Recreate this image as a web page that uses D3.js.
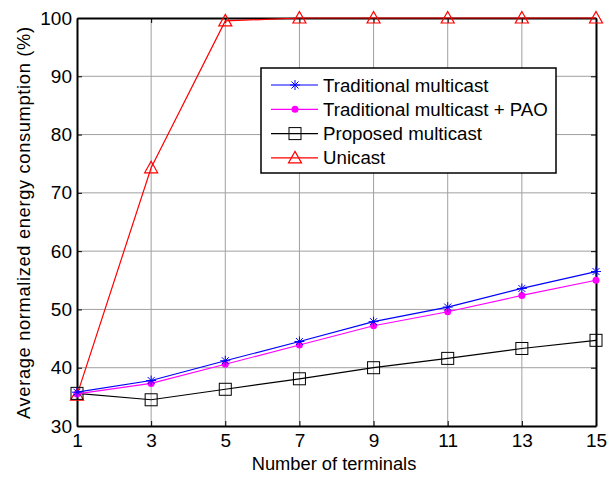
<!DOCTYPE html>
<html>
<head>
<meta charset="utf-8">
<script src="https://cdn.jsdelivr.net/npm/d3@7"></script>
<style>
  body { margin: 0; background: white; }
  text { font-family: "Liberation Sans", Arial, sans-serif; }
</style>
</head>
<body>
<div id="chart"></div>
<script>
// data
var terminals   = [1, 3, 5, 7, 9, 11, 13, 15];
var traditional = [35.8, 37.8, 41.2, 44.5, 47.9, 50.4, 53.6, 56.5];
var pao         = [35.5, 37.3, 40.6, 43.9, 47.2, 49.6, 52.4, 55.0];
var proposed    = [35.6, 34.5, 36.3, 38.1, 40.0, 41.6, 43.3, 44.7];
var unicast     = [35.3, 74.3, 99.5, 100, 100, 100, 100, 100];
var yTicks      = [30, 40, 50, 60, 70, 80, 90, 100];

var series = [
  { name: "Traditional multicast",       values: traditional, color: "#0000ff", marker: "star" },
  { name: "Traditional multicast + PAO", values: pao,         color: "#ff00ff", marker: "dot" },
  { name: "Proposed multicast",          values: proposed,    color: "#000000", marker: "square" },
  { name: "Unicast",                     values: unicast,     color: "#ff0000", marker: "triangle" }
];

var width = 611, height = 477;
var plotLeft = 77, plotRight = 596, plotTop = 18, plotBottom = 426;

var svg = d3.select("#chart").append("svg")
    .attr("width", width)
    .attr("height", height);

svg.append("rect").attr("width", width).attr("height", height).attr("fill", "white");

var x = d3.scaleLinear().domain([1, 15]).range([plotLeft, plotRight]);
var y = d3.scaleLinear().domain([30, 100]).range([plotBottom, plotTop]);

// grid
var grid = svg.append("g");
grid.selectAll("line.vx")
    .data(terminals.slice(1, -1))
    .enter().append("line")
    .attr("x1", function(d) { return x(d); })
    .attr("x2", function(d) { return x(d); })
    .attr("y1", plotTop).attr("y2", plotBottom)
    .attr("stroke", "#a0a0a0").attr("stroke-width", 1);
grid.selectAll("line.hy")
    .data(yTicks.slice(1, -1))
    .enter().append("line")
    .attr("y1", function(d) { return y(d); })
    .attr("y2", function(d) { return y(d); })
    .attr("x1", plotLeft).attr("x2", plotRight)
    .attr("stroke", "#a0a0a0").attr("stroke-width", 1);

// axes
var xAxis = d3.axisBottom(x).tickValues(terminals).tickSizeInner(-5).tickSizeOuter(0).tickPadding(8);
var yAxis = d3.axisLeft(y).tickValues(yTicks).tickSizeInner(-5).tickSizeOuter(0).tickPadding(5);

var gx = svg.append("g").attr("transform", "translate(0," + plotBottom + ")").call(xAxis);
var gy = svg.append("g").attr("transform", "translate(" + plotLeft + ",0)").call(yAxis);
var gxt = svg.append("g").attr("transform", "translate(0," + plotTop + ")")
    .call(d3.axisTop(x).tickValues(terminals).tickSizeInner(-5).tickSizeOuter(0).tickFormat(""));
var gyr = svg.append("g").attr("transform", "translate(" + plotRight + ",0)")
    .call(d3.axisRight(y).tickValues(yTicks).tickSizeInner(-5).tickSizeOuter(0).tickFormat(""));

[gx, gy, gxt, gyr].forEach(function(g) {
  g.select(".domain").attr("stroke", "black").attr("stroke-width", 2);
  g.selectAll(".tick line").attr("stroke", "black");
  g.selectAll(".tick text").attr("fill", "black")
    .style("font-family", "'Liberation Sans', Arial, sans-serif")
    .style("font-size", "19px");
});

// lines
var line = d3.line()
    .x(function(d, i) { return x(terminals[i]); })
    .y(function(d) { return y(d); });

function drawMarker(g, type, color, cx, cy) {
  if (type === "star") {
    var r = 5;
    [[0, -r, 0, r], [-r, 0, r, 0], [-3.5, -3.5, 3.5, 3.5], [-3.5, 3.5, 3.5, -3.5]].forEach(function(s) {
      g.append("line").attr("x1", cx + s[0]).attr("y1", cy + s[1]).attr("x2", cx + s[2]).attr("y2", cy + s[3])
        .attr("stroke", color).attr("stroke-width", 1);
    });
  } else if (type === "dot") {
    g.append("circle").attr("cx", cx).attr("cy", cy).attr("r", 3.5).attr("fill", color);
  } else if (type === "square") {
    g.append("rect").attr("x", cx - 6).attr("y", cy - 6).attr("width", 12).attr("height", 12)
      .attr("fill", "none").attr("stroke", color).attr("stroke-width", 1);
  } else if (type === "triangle") {
    g.append("path").attr("d", "M" + cx + "," + (cy - 6.5) + "L" + (cx + 6.5) + "," + (cy + 5) + "L" + (cx - 6.5) + "," + (cy + 5) + "Z")
      .attr("fill", "none").attr("stroke", color).attr("stroke-width", 1.2);
  }
}

// draw back to front: unicast under others
series.slice().reverse().forEach(function(s) {
  var g = svg.append("g");
  g.append("path").datum(s.values).attr("d", line)
    .attr("fill", "none").attr("stroke", s.color).attr("stroke-width", 1.2);
  s.values.forEach(function(v, i) { drawMarker(g, s.marker, s.color, x(terminals[i]), y(v)); });
});

// legend
var legend = svg.append("g").attr("transform", "translate(261,68)");
legend.append("rect").attr("width", 295).attr("height", 105)
  .attr("fill", "white").attr("stroke", "black").attr("stroke-width", 1.5);
series.forEach(function(s, i) {
  var ly = 17 + i * 24.3;
  legend.append("line").attr("x1", 10).attr("x2", 57).attr("y1", ly).attr("y2", ly)
    .attr("stroke", s.color).attr("stroke-width", 1.2);
  drawMarker(legend, s.marker, s.color, 34, ly);
  legend.append("text").attr("x", 62).attr("y", ly + 6.5).attr("font-size", "18.7px").attr("fill", "black").text(s.name);
});

// axis titles
svg.append("text").attr("x", 334).attr("y", 470).attr("text-anchor", "middle")
  .attr("font-size", "18.3px").text("Number of terminals");
svg.append("text").attr("transform", "translate(30,223) rotate(-90)")
  .attr("text-anchor", "middle").attr("font-size", "18.3px")
  .attr("textLength", 392).attr("lengthAdjust", "spacing")
  .text("Average normalized energy consumption (%)");
</script>
</body>
</html>
